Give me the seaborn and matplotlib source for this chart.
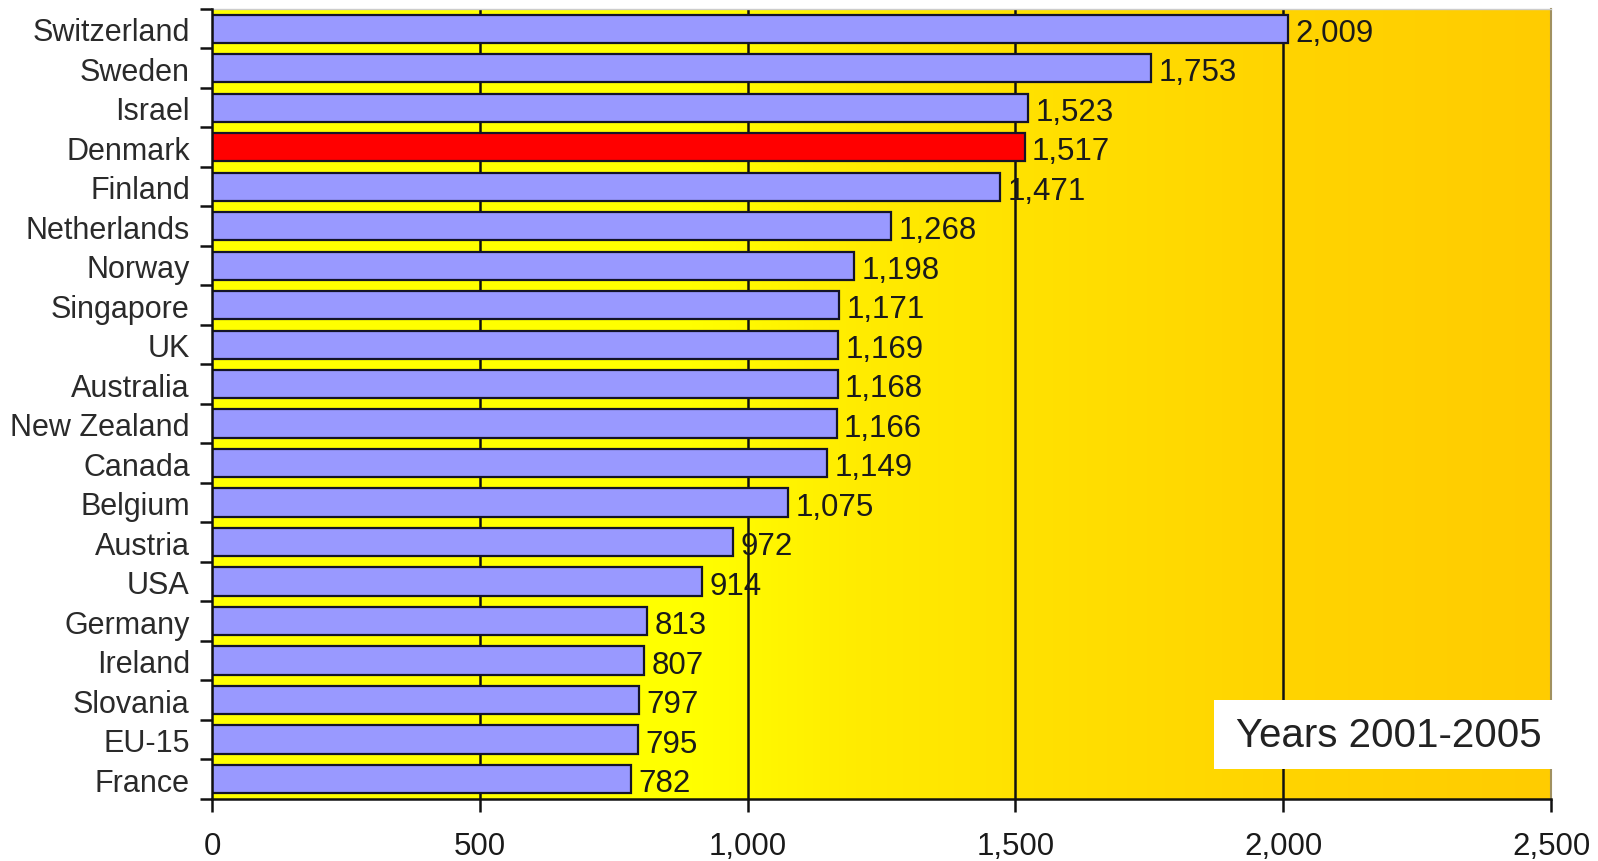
import numpy as np
import pandas as pd
import matplotlib
matplotlib.use("Agg")
import matplotlib.pyplot as plt
from matplotlib.colors import LinearSegmentedColormap
from matplotlib.ticker import FixedLocator, FuncFormatter
from matplotlib.patches import Rectangle
import seaborn as sns

countries = ["Switzerland", "Sweden", "Israel", "Denmark", "Finland", "Netherlands",
             "Norway", "Singapore", "UK", "Australia", "New Zealand", "Canada",
             "Belgium", "Austria", "USA", "Germany", "Ireland", "Slovania",
             "EU-15", "France"]
values = [2009, 1753, 1523, 1517, 1471, 1268, 1198, 1171, 1169, 1168, 1166, 1149,
          1075, 972, 914, 813, 807, 797, 795, 782]
highlight = "Denmark"
x_ticks = [0, 500, 1000, 1500, 2000, 2500]
period_label = "Years 2001-2005"

sns.set_theme(style="white")
plt.rcParams["font.family"] = ["Liberation Sans", "DejaVu Sans"]

df = pd.DataFrame({"country": countries, "value": values})
palette = {c: ("#FF0000" if c == highlight else "#9999FF") for c in countries}

fig = plt.figure(figsize=(15.98, 8.62), dpi=100)
ax = fig.add_axes([0.1327, 0.0720, 0.8379, 0.9164])

# horizontal yellow-to-amber background
bg_cmap = LinearSegmentedColormap.from_list(
    "bg", [(0.0, "#FFFF00"), (0.36, "#FFFF00"), (0.48, "#FFEC00"),
           (0.64, "#FFDF00"), (0.80, "#FFD400"), (1.0, "#FFCC00")])
grad = np.linspace(0, 1, 512).reshape(1, -1)
ax.imshow(grad, cmap=bg_cmap, aspect="auto", extent=[0, 2500, 19.5, -0.5],
          zorder=0, interpolation="bilinear")

for xv in x_ticks[1:-1]:
    ax.axvline(xv, color="#111111", lw=1.8, zorder=1)

sns.barplot(data=df, x="value", y="country", hue="country", palette=palette,
            legend=False, orient="h", width=0.72, edgecolor="#141428",
            linewidth=1.6, saturation=1, ax=ax, zorder=2)

for i, v in enumerate(values):
    ax.text(v + 14, i + 0.1, f"{v:,}", va="center", ha="left",
            fontsize=22.5, color="#1a1a1a", zorder=3)

ax.set_xlim(0, 2500)
ax.set_ylim(19.5, -0.5)
ax.set_xlabel("")
ax.set_ylabel("")

ax.xaxis.set_major_locator(FixedLocator(x_ticks))
ax.xaxis.set_major_formatter(FuncFormatter(lambda v, p: f"{int(v):,}"))
ax.tick_params(axis="x", which="major", direction="out", length=9, width=1.8,
               color="#111111", labelsize=22.5, labelcolor="#1a1a1a", pad=14,
               bottom=True)
ax.tick_params(axis="y", which="major", length=0, labelsize=22,
               labelcolor="#2a2a2a", pad=16)
ax.yaxis.set_minor_locator(FixedLocator(np.arange(-0.5, 20, 1.0)))
ax.tick_params(axis="y", which="minor", direction="out", length=9, width=1.8,
               color="#111111", left=True)

for side in ["left", "bottom"]:
    ax.spines[side].set_color("#111111")
    ax.spines[side].set_linewidth(1.8)
    ax.spines[side].set_zorder(4)
ax.spines["right"].set_color("#a09060")
ax.spines["right"].set_linewidth(1.5)
ax.spines["top"].set_color("#cccccc")
ax.spines["top"].set_linewidth(1.0)

# white caption panel in the lower right corner
ax.add_patch(Rectangle((0.748, 0.038), 0.254, 0.087, transform=ax.transAxes,
                       facecolor="white", edgecolor="none", zorder=5,
                       clip_on=False))
ax.text(0.8785, 0.081, period_label, transform=ax.transAxes, ha="center",
        va="center", fontsize=29, color="#222222", zorder=6)

fig.savefig("out.png", dpi=100)
